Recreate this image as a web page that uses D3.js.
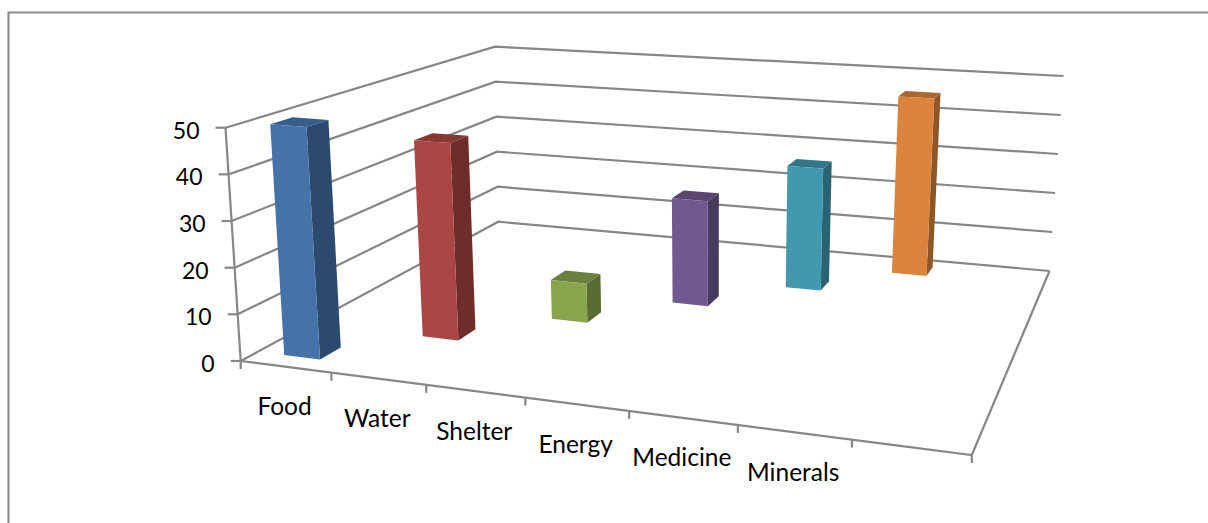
<!DOCTYPE html>
<html>
<head>
<meta charset="utf-8">
<style>
  html, body { margin: 0; background: #fff; }
  svg { display: block; }
  text { font-family: Lato, "Open Sans", sans-serif; fill: #000; }
</style>
<script src="https://cdn.jsdelivr.net/npm/d3@7"></script>
</head>
<body>
<svg id="chart" width="1208" height="523"></svg>
<script>
// Chart data: one column per resource, each on its own depth row.
const categories = ["Food", "Water", "Shelter", "Energy", "Medicine", "Minerals", ""];
const seriesValues = [50, 44, 9, 25, 30, 45];
const valueTicks = [0, 10, 20, 30, 40, 50];

const FACE_COLOURS = [
  { front: "#4572a7", side: "#2c4a6e", top: "#365d8c" },
  { front: "#aa4643", side: "#6e2d2b", top: "#843733" },
  { front: "#89a54e", side: "#5a6c33", top: "#6b803c" },
  { front: "#71588f", side: "#483a5e", top: "#59456f" },
  { front: "#4198af", side: "#2a6372", top: "#337688" },
  { front: "#db843d", side: "#8f5728", top: "#aa6730" }
];
const LINE = "#878787";
const LINE_WIDTH = 2.2;

// Perspective box: where the floor and ceiling corners land on screen,
// ordered front-left, front-right, back-right, back-left.
const FLOOR = [[240.7, 361], [971.8, 455], [1049.5, 271], [498.3, 221.7]];
const CEILING = [[225.5, 127.7], [982, 186], [1063.5, 76], [495, 46.7]];

// Homography taking the unit square onto a screen quadrilateral.
function homography([A, B, C, D]) {
  const dx1 = B[0] - C[0], dx2 = D[0] - C[0], sx = A[0] - B[0] + C[0] - D[0];
  const dy1 = B[1] - C[1], dy2 = D[1] - C[1], sy = A[1] - B[1] + C[1] - D[1];
  const den = dx1 * dy2 - dx2 * dy1;
  const g = (sx * dy2 - dx2 * sy) / den, h = (dx1 * sy - sx * dy1) / den;
  const a = B[0] - A[0] + g * B[0], b = D[0] - A[0] + h * D[0];
  const d = B[1] - A[1] + g * B[1], e = D[1] - A[1] + h * D[1];
  return (u, v) => {
    const w = g * u + h * v + 1;
    return [(a * u + b * v + A[0]) / w, (d * u + e * v + A[1]) / w];
  };
}
const floorMap = homography(FLOOR);
const ceilingMap = homography(CEILING);

// Scales: category across the front, series into the depth, value upward.
const xBand = d3.scaleBand().domain(d3.range(categories.length)).range([0, 1]);
const depthBand = d3.scaleBand().domain(d3.range(seriesValues.length)).range([0, 1]);
const valueScale = d3.scaleLinear().domain([0, 50]).range([0, 1]);

function project(u, v, value) {
  const f = floorMap(u, v), c = ceilingMap(u, v), t = valueScale(value);
  return [f[0] + (c[0] - f[0]) * t, f[1] + (c[1] - f[1]) * t];
}

const svg = d3.select("#chart");
const pathOf = pts => d3.line()(pts);
const closed = pts => d3.line()(pts) + "Z";

// Outer chart frame, running off the right and bottom edges.
svg.append("path")
  .attr("d", pathOf([[8.5, 523], [8.5, 12.5], [1208, 12.5]]))
  .attr("fill", "none").attr("stroke", "#8c8c8c").attr("stroke-width", 2.2);

// Walls: gridlines along the left wall and the back wall.
const grid = svg.append("g").attr("fill", "none").attr("stroke", LINE).attr("stroke-width", LINE_WIDTH);
grid.selectAll("path.gridline").data(valueTicks).join("path")
  .attr("class", "gridline")
  .attr("d", v => pathOf([project(0, 0, v), project(0, 1, v), project(1, 1, v)]));

// Floor edges and the vertical axis.
grid.append("path").attr("d", pathOf([project(0, 0, 0), project(1, 0, 0), project(1, 1, 0)]));
grid.append("path").attr("d", pathOf([project(0, 0, 0), project(0, 0, 50)]));

// Value axis ticks and labels.
const yAxis = svg.append("g");
yAxis.selectAll("line").data(valueTicks).join("line")
  .attr("x1", v => project(0, 0, v)[0]).attr("y1", v => project(0, 0, v)[1])
  .attr("x2", v => project(0, 0, v)[0] - 10).attr("y2", v => project(0, 0, v)[1])
  .attr("stroke", LINE).attr("stroke-width", LINE_WIDTH);
yAxis.selectAll("text").data(valueTicks).join("text")
  .attr("x", v => project(0, 0, v)[0] - 26)
  .attr("y", v => project(0, 0, v)[1] + 11)
  .attr("text-anchor", "end")
  .attr("font-size", 23)
  .text(d3.format("d"));

// Category ticks along the front floor edge.
const xEdges = d3.range(categories.length + 1).map(i => i / categories.length);
const xAxis = svg.append("g");
xAxis.selectAll("line").data(xEdges).join("line")
  .attr("x1", u => project(u, 0, 0)[0]).attr("y1", u => project(u, 0, 0)[1])
  .attr("x2", u => project(u, 0, 0)[0]).attr("y2", u => project(u, 0, 0)[1] + 8)
  .attr("stroke", LINE).attr("stroke-width", LINE_WIDTH);
xAxis.selectAll("text").data(categories).join("text")
  .attr("x", (_, i) => project(xBand(i) + xBand.bandwidth() / 2, 0, 0)[0] - 1)
  .attr("y", (_, i) => project(xBand(i) + xBand.bandwidth() / 2, 0, 0)[1] + 48.5)
  .attr("text-anchor", "middle")
  .attr("font-size", 24.5)
  .text(d => d);

// Columns, far row first so nearer ones paint over farther ones.
const columnRatio = 0.4;
const order = d3.range(seriesValues.length).reverse();
const columns = svg.selectAll("g.column").data(order).join("g").attr("class", "column");
columns.each(function (i) {
  const value = seriesValues[i];
  const uw = xBand.bandwidth(), dw = depthBand.bandwidth();
  const u0 = xBand(i) + uw * (1 - columnRatio) / 2, u1 = u0 + uw * columnRatio;
  const d0 = depthBand(i) + dw * (1 - columnRatio) / 2, d1 = d0 + dw * columnRatio;
  const g = d3.select(this), c = FACE_COLOURS[i];
  g.append("path").attr("fill", c.side)
    .attr("d", closed([project(u1, d0, 0), project(u1, d1, 0), project(u1, d1, value), project(u1, d0, value)]));
  g.append("path").attr("fill", c.top)
    .attr("d", closed([project(u0, d0, value), project(u1, d0, value), project(u1, d1, value), project(u0, d1, value)]));
  g.append("path").attr("fill", c.front)
    .attr("d", closed([project(u0, d0, 0), project(u1, d0, 0), project(u1, d0, value), project(u0, d0, value)]));
});
</script>
</body>
</html>
